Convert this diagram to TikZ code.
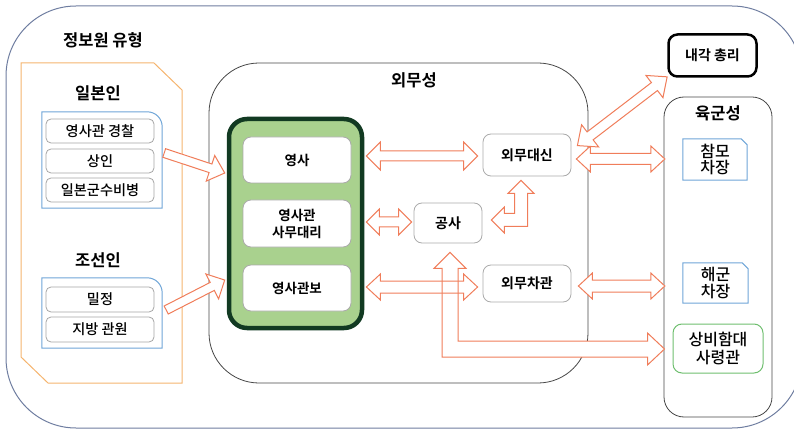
\documentclass[tikz,border=0pt]{standalone}
\usepackage{fontspec}
\setmainfont{Noto Sans CJK KR}[UprightFont={* Medium}, BoldFont={* Bold}]
\usetikzlibrary{calc}
\definecolor{outerc}{RGB}{110,125,160}
\definecolor{orangec}{RGB}{245,180,110}
\definecolor{bluec}{RGB}{110,165,215}
\definecolor{itemgray}{RGB}{165,165,165}
\definecolor{boxgray}{RGB}{170,170,170}
\definecolor{darkgray2}{RGB}{70,70,70}
\definecolor{greenfill}{RGB}{169,209,142}
\definecolor{greenline}{RGB}{18,58,34}
\definecolor{arrowc}{RGB}{240,125,90}
\definecolor{greenbox}{RGB}{110,190,110}
\newcommand{\DblArrow}[5]{%
  \path (#1); \pgfgetlastxy{\Ax}{\Ay}%
  \path (#2); \pgfgetlastxy{\Bx}{\By}%
  \pgfmathsetmacro{\Ang}{atan2(\By-\Ay,\Bx-\Ax)}%
  \pgfmathsetmacro{\Len}{veclen(\Bx-\Ax,\By-\Ay)}%
  \draw[barrow, shift={(\Ax,\Ay)}, rotate=\Ang]
    (0pt,0pt) -- (#5pt,#4pt) -- (#5pt,#3pt) -- (\Len pt-#5pt,#3pt) -- (\Len pt-#5pt,#4pt) -- (\Len pt,0pt)
    -- (\Len pt-#5pt,-#4pt) -- (\Len pt-#5pt,-#3pt) -- (#5pt,-#3pt) -- (#5pt,-#4pt) -- cycle;}
\newcommand{\SglArrow}[5]{%
  \path (#1); \pgfgetlastxy{\Ax}{\Ay}%
  \path (#2); \pgfgetlastxy{\Bx}{\By}%
  \pgfmathsetmacro{\Ang}{atan2(\By-\Ay,\Bx-\Ax)}%
  \pgfmathsetmacro{\Len}{veclen(\Bx-\Ax,\By-\Ay)}%
  \draw[barrow, shift={(\Ax,\Ay)}, rotate=\Ang]
    (0pt,#3pt) -- (\Len pt-#5pt,#3pt) -- (\Len pt-#5pt,#4pt) -- (\Len pt,0pt)
    -- (\Len pt-#5pt,-#4pt) -- (\Len pt-#5pt,-#3pt) -- (0pt,-#3pt) -- cycle;}
\begin{document}
\begin{tikzpicture}[x=1pt,y=-1pt,
  item/.style={draw=itemgray, line width=0.8pt, rounded corners=5pt, minimum width=108pt, minimum height=24pt, inner sep=0pt, font=\fontsize{14.2}{16}\selectfont},
  inbox/.style={draw=boxgray, line width=0.8pt, fill=white, rounded corners=8pt, minimum width=108pt, minimum height=46pt, inner sep=0pt, align=center, font=\bfseries\fontsize{13.5}{17}\selectfont},
  mbox/.style={draw=boxgray, line width=0.8pt, fill=white, rounded corners=8pt, inner sep=0pt, font=\bfseries\fontsize{14}{16}\selectfont},
  ttl/.style={font=\bfseries\fontsize{16.5}{18}\selectfont, inner sep=0pt},
  sub/.style={inner sep=0pt, align=center, font=\fontsize{16}{16.5}\selectfont},
  barrow/.style={draw=arrowc, line width=1pt, line join=miter, fill=white},
  grpbox/.style={draw=darkgray2, line width=0.8pt, inner sep=0pt},
  ghost/.style={inner sep=0pt}
]
\useasboundingbox (0,0) rectangle (794,430);
\clip (0,0) rectangle (794,430);

% outer container
\draw[outerc, line width=1pt, rounded corners=70pt] (6,6) rectangle (802,428);
\node[ttl] (title) at (103,40) {정보원 유형};

% sources container
\draw[orangec, line width=1pt] (21,63) -- (154,63) -- (182,90) -- (182,383) -- (48,383) -- (21,357) -- cycle;
\node[ttl] (jp) at (98,93) {일본인};
\node[ttl] (kr) at (98,260) {조선인};

\node[ghost, minimum width=120pt, minimum height=96pt] (jpg) at (102,160) {};
\draw[bluec, line width=1pt] (jpg.south west) -- (jpg.north west) -- ([xshift=-15pt]jpg.north east) to[out=0,in=90] ([yshift=-15pt]jpg.north east) -- (jpg.south east) -- cycle;
\node[ghost, minimum width=120pt, minimum height=70pt] (krg) at (102,313) {};
\draw[bluec, line width=1pt] (krg.south west) -- (krg.north west) -- ([xshift=-15pt]krg.north east) to[out=0,in=90] ([yshift=-15pt]krg.north east) -- (krg.south east) -- cycle;

\node[item] (jp1) at (100,131) {영사관 경찰};
\node[item] (jp2) at (100,161) {상인};
\node[item] (jp3) at (100,190) {일본군수비병};
\node[item, minimum height=25pt] (kr1) at (100,299.5) {밀정};
\node[item, minimum height=25pt] (kr2) at (100,329.5) {지방 관원};

% foreign ministry
\node[grpbox, rounded corners=50pt, minimum width=379pt, minimum height=320pt] (mofa) at (398.5,223) {};
\node[ttl] (mofat) at (414,80) {외무성};

\node[draw=greenline, line width=4.5pt, fill=greenfill, rounded corners=18pt, minimum width=133pt, minimum height=209pt, inner sep=0pt] (grp) at (295.5,223.5) {};
\node[inbox] (ys1) at (297,160) {영사};
\node[inbox, minimum height=47pt] (ys2) at (297,223.5) {영사관\\사무대리};
\node[inbox] (ys3) at (297,288) {영사관보};

\node[mbox, minimum width=88pt, minimum height=42pt] (wd) at (527,155) {외무대신};
\node[mbox, minimum width=68pt, minimum height=40pt] (gs) at (448,223) {공사};
\node[mbox, minimum width=88pt, minimum height=37pt] (wc) at (527,283.5) {외무차관};

% cabinet and army
\node[draw=black, line width=2.5pt, rounded corners=9pt, minimum width=88pt, minimum height=42pt, inner sep=0pt, font=\bfseries\fontsize{14}{16}\selectfont] (pm) at (712.5,55.5) {내각 총리};
\node[grpbox, rounded corners=20pt, minimum width=108pt, minimum height=320pt] (army) at (718,257) {};
\node[ttl] (armyt) at (718,113) {육군성};

\node[ghost, minimum width=64pt, minimum height=41pt] (cm) at (715,159.5) {};
\draw[bluec, line width=1pt] (cm.south west) -- (cm.north west) -- ([xshift=-6pt]cm.north east) -- ([yshift=-6pt]cm.north east) -- (cm.south east) -- cycle;
\node[sub] (cmt) at (cm) {참모\\차장};
\node[ghost, minimum width=65pt, minimum height=40pt] (hg) at (715.5,283) {};
\draw[bluec, line width=1pt] (hg.south west) -- (hg.north west) -- ([xshift=-6pt]hg.north east) -- ([yshift=-6pt]hg.north east) -- (hg.south east) -- cycle;
\node[sub] (hgt) at (hg) {해군\\차장};
\node[draw=greenbox, line width=1pt, rounded corners=9pt, minimum width=90pt, minimum height=49pt, inner sep=0pt, align=center, font=\fontsize{16}{18}\selectfont] (sb) at (718,348.5) {상비함대\\사령관};

% arrows: sources -> consulate group
\SglArrow{$(jpg.east)+(2,-7)$}{$(grp.west)+(-2,-50.5)$}{4.5}{13.5}{15}
\SglArrow{$(krg.east)+(4,-3)$}{$(grp.west)+(-2,56.5)$}{4.5}{14}{14}

% consulate <-> ministry
\DblArrow{$(ys1.east)+(15,-4)$}{$(wd.west)+(-5,1)$}{5}{14}{14}
\DblArrow{$(ys2.east)+(15,-1.5)$}{$(gs.west)+(-2,-1)$}{5}{13}{13}

% gongsa <-> minister (elbow)
\coordinate (gsE) at ($(gs.east)+(9,-3)$);
\coordinate (wdS) at ($(wd.south)+(-6,4)$);
\path (gsE); \pgfgetlastxy{\Ax}{\Ay}
\path (wdS); \pgfgetlastxy{\Bx}{\By}
\draw[barrow] (\Ax,\Ay) -- (\Ax+13pt,\Ay+13pt) -- (\Ax+13pt,\Ay+6.5pt) -- (\Bx-6.5pt,\Ay+6.5pt) -- (\Bx-6.5pt,\By-13pt) -- (\Bx-13pt,\By-13pt) -- (\Bx,\By) -- (\Bx+13pt,\By-13pt) -- (\Bx+6.5pt,\By-13pt) -- (\Bx+6.5pt,\Ay-6.5pt) -- (\Ax+13pt,\Ay-6.5pt) -- (\Ax+13pt,\Ay-13pt) -- cycle;

% gongsa <-> fleet commander (elbow)
\coordinate (gsS) at ($(gs.south)+(2,9)$);
\coordinate (sbW) at ($(sb.west)+(-8,0.5)$);
\path (gsS); \pgfgetlastxy{\Ax}{\Ay}
\path (sbW); \pgfgetlastxy{\Bx}{\By}
\draw[barrow] (\Ax,\Ay) -- (\Ax+16pt,\Ay-16pt) -- (\Ax+8pt,\Ay-16pt) -- (\Ax+8pt,\By+8pt) -- (\Bx-17pt,\By+8pt) -- (\Bx-17pt,\By+16pt) -- (\Bx,\By) -- (\Bx-17pt,\By-16pt) -- (\Bx-17pt,\By-8pt) -- (\Ax-8pt,\By-8pt) -- (\Ax-8pt,\Ay-16pt) -- (\Ax-16pt,\Ay-16pt) -- cycle;

% vice consul <-> vice minister (drawn over, no fill)
\begin{scope}[barrow/.append style={fill=none}]
\DblArrow{$(ys3.east)+(15,-1)$}{$(wc.west)+(-5,3.5)$}{6}{13}{14}
\end{scope}

% minister <-> army / cabinet, vice minister <-> navy
\DblArrow{$(wd.east)+(5,4)$}{$(cm.west)+(-18,-0.5)$}{5.5}{13}{14}
\DblArrow{$(wd.north east)+(6,12)$}{$(pm.south west)+(0,-1)$}{5}{14}{16}
\DblArrow{$(wc.east)+(7,2.5)$}{$(hg.west)+(-18,3)$}{6}{13}{14}
\end{tikzpicture}
\end{document}
